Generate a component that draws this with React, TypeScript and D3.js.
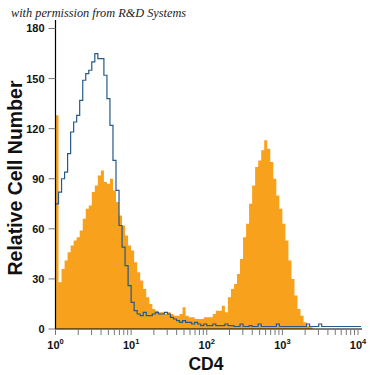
import React from "react";
import * as d3 from "d3";

// Histogram bins: each bin spans BIN_STEP decades, starting at 10^0
const BIN_STEP = 0.04;

// Orange (CD4 stained) histogram counts per bin
const stainedCounts = [
  128, 28, 36, 41, 46, 50, 53, 55, 59, 66,
  72, 74, 82, 86, 92, 95, 88, 87, 90, 83,
  76, 68, 62, 56, 50, 47, 40, 34, 29, 24,
  19, 15, 12, 11, 10, 10, 9, 10, 9, 8,
  8, 9, 13, 8, 7, 7, 6, 6, 6, 7,
  7, 7, 9, 11, 11, 14, 10, 19, 24, 27,
  33, 42, 55, 63, 75, 86, 97, 101, 107, 113,
  108, 100, 90, 80, 72, 63, 53, 41, 30, 20,
  12, 8, 4, 2, 1, 0, 0, 0, 0, 0,
  0, 0, 0, 0, 0, 0, 0, 0, 0, 0, 0,
];

// Blue (isotype control) histogram counts per bin
const controlCounts = [
  75, 82, 90, 94, 105, 118, 124, 128, 137, 149,
  153, 155, 160, 165, 162, 162, 152, 138, 122, 101,
  83, 62, 49, 38, 26, 16, 11, 9, 8, 10,
  8, 8, 9, 10, 9, 9, 10, 9, 7, 6,
  5, 4, 5, 4, 4, 3, 4, 3, 2, 3,
  2, 2, 3, 2, 2, 2, 3, 2, 2, 1.5,
  1.5, 3, 1.5, 1.5, 2, 1.5, 1.5, 3, 1.5, 1.5,
  1.5, 1.5, 1.5, 3, 1.5, 1.5, 1.5, 1.5, 1.5, 1.5,
  1.5, 1.5, 1.5, 3, 1.5, 1.5, 1.5, 3, 1.5, 1.5,
  1.5, 1.5, 1.5, 1.5, 1.5, 1.5, 1.5, 1.5, 1.5, 1.5, 1.5,
];

const yTicks = [0, 30, 60, 90, 120, 150, 180];
const xDecades = [0, 1, 2, 3, 4];
const minorMultipliers = [2, 3, 4, 5, 6, 7, 8, 9];

const xLabel = "CD4";
const yLabel = "Relative Cell Number";
const credit = "with permission from R&D Systems";

export default function App() {
  const left = 55.5;
  const right = 358;
  const top = 28.5;
  const bottom = 329;

  const x = d3.scaleLog().domain([1, 10000]).range([left, right]);
  const y = d3.scaleLinear().domain([0, 180]).range([bottom, top]);

  const toPoints = (counts: number[]) => {
    const pts = counts.map((c, i) => ({ e: Math.pow(10, i * BIN_STEP), c }));
    pts.push({ e: Math.pow(10, counts.length * BIN_STEP), c: counts[counts.length - 1] });
    return pts;
  };

  const stainedPts = toPoints(stainedCounts);
  const controlPts = toPoints(controlCounts);

  const area = d3
    .area<{ e: number; c: number }>()
    .x((d) => x(d.e))
    .y0(y(0))
    .y1((d) => y(d.c))
    .curve(d3.curveStepAfter);

  const line = d3
    .line<{ e: number; c: number }>()
    .x((d) => x(d.e))
    .y((d) => y(d.c))
    .curve(d3.curveStepAfter);

  const minorTicks: number[] = [];
  for (let d = 0; d < 4; d++) {
    for (const m of minorMultipliers) minorTicks.push(m * Math.pow(10, d));
  }

  const font = "'Liberation Sans', Arial, sans-serif";

  return (
    <svg
      width={375}
      height={375}
      style={{ position: "absolute", left: 0, top: 0, background: "#fff" }}
    >
      <rect width={375} height={375} fill="#fff" />
      <text
        x={11}
        y={17}
        fontFamily="'Liberation Serif', 'DejaVu Serif', serif"
        fontStyle="italic"
        fontSize={12.3}
        fill="#222"
      >
        {credit}
      </text>

      <path d={area(stainedPts) || ""} fill="#f7a11d" stroke="none" />
      <path
        d={line(controlPts) || ""}
        fill="none"
        stroke="#25598a"
        strokeWidth={1.2}
      />

      {/* y axis */}
      <line x1={left} x2={left} y1={20} y2={bottom} stroke="#000" strokeWidth={1.2} />
      {yTicks.map((t) => (
        <g key={t}>
          <line x1={left - 7} x2={left} y1={y(t)} y2={y(t)} stroke="#777" strokeWidth={1} />
          <text
            x={left - 11}
            y={y(t)}
            dy="0.36em"
            textAnchor="end"
            fontFamily={font}
            fontWeight="bold"
            fontSize={11}
            fill="#111"
          >
            {t}
          </text>
        </g>
      ))}

      {/* x axis */}
      <line x1={left} x2={362} y1={bottom} y2={bottom} stroke="#000" strokeWidth={1.2} />
      {xDecades.map((d) => (
        <g key={d}>
          <line x1={x(Math.pow(10, d))} x2={x(Math.pow(10, d))} y1={bottom} y2={bottom + 6} stroke="#777" />
          <text
            x={x(Math.pow(10, d))}
            y={348.5}
            textAnchor="middle"
            fontFamily={font}
            fontWeight="bold"
            fontSize={11}
            fill="#111"
          >
            10
            <tspan dy={-4.5} fontSize={7.5}>
              {d}
            </tspan>
          </text>
        </g>
      ))}
      {minorTicks.map((v) => (
        <line key={v} x1={x(v)} x2={x(v)} y1={bottom} y2={bottom + 6} stroke="#777" />
      ))}

      <text
        x={206}
        y={370}
        textAnchor="middle"
        fontFamily={font}
        fontWeight="bold"
        fontSize={17.5}
        fill="#111"
      >
        {xLabel}
      </text>
      <text
        transform={`translate(22,178) rotate(-90)`}
        textAnchor="middle"
        fontFamily={font}
        fontWeight="bold"
        fontSize={19.5}
        fill="#111"
      >
        {yLabel}
      </text>
    </svg>
  );
}
